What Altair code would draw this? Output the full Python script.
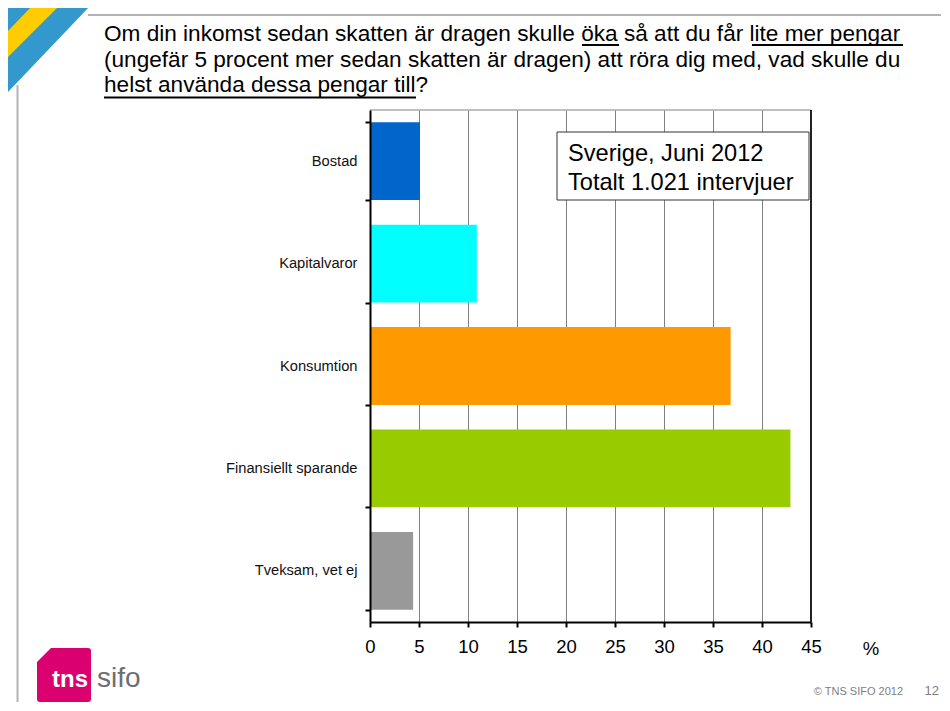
import altair as alt
import pandas as pd

# ---- data ----
categories = ["Bostad", "Kapitalvaror", "Konsumtion", "Finansiellt sparande", "Tveksam, vet ej"]
values = [5.1, 10.9, 36.8, 42.9, 4.4]
colors = ["#0066CC", "#00FFFF", "#FF9900", "#99CC00", "#999999"]
x_ticks = [0, 5, 10, 15, 20, 25, 30, 35, 40, 45]
title_lines = [
    "Om din inkomst sedan skatten är dragen skulle öka så att du får lite mer pengar",
    "(ungefär 5 procent mer sedan skatten är dragen) att röra dig med, vad skulle du",
    "helst använda dessa pengar till?",
]
box_lines = ["Sverige, Juni 2012", "Totalt 1.021 intervjuer"]
unit_label = "%"
copyright_text = "© TNS SIFO 2012"
page_number = "12"

W, H = 441, 512
FONT = "Liberation Sans"

df = pd.DataFrame({"kategori": categories, "andel": values})
one = pd.DataFrame({"d": [0]})

bars = alt.Chart(df).mark_bar().encode(
    y=alt.Y(
        "kategori:N",
        sort=categories,
        scale=alt.Scale(paddingInner=0.24, paddingOuter=0.12),
        axis=alt.Axis(
            title=None, tickBand="extent", ticks=True, tickColor="black", tickWidth=2,
            tickSize=5, domainColor="black", domainWidth=2, labelFontSize=14.7,
            labelColor="#111111", labelPadding=8, zindex=1, grid=False, labelFont=FONT,
            labelFontWeight="normal",
        ),
    ),
    x=alt.X(
        "andel:Q",
        scale=alt.Scale(domain=[0, 45], nice=False),
        axis=alt.Axis(
            values=x_ticks, title=None, grid=True, gridColor="#808080", gridWidth=1,
            tickColor="black", tickWidth=2, tickSize=5, domainColor="black", domainWidth=2,
            labelFontSize=18.5, labelColor="black", labelPadding=10, format="d",
            labelFlush=False, labelOverlap=False, labelFont=FONT,
        ),
    ),
    color=alt.Color("kategori:N", scale=alt.Scale(domain=categories, range=colors), legend=None),
)

def hrule(x0, x1, y, color, width):
    return alt.Chart(one).mark_rule(color=color, strokeWidth=width).encode(
        x=alt.value(x0), x2=alt.value(x1), y=alt.value(y))

def vrule(x, y0, y1, color, width):
    return alt.Chart(one).mark_rule(color=color, strokeWidth=width).encode(
        x=alt.value(x), y=alt.value(y0), y2=alt.value(y1))

def label(txt, x, y, size, color="black", align="left", weight="normal", font=FONT):
    return alt.Chart(one).mark_text(
        text=txt, align=align, baseline="alphabetic", fontSize=size, color=color,
        fontWeight=weight, font=font,
    ).encode(x=alt.value(x), y=alt.value(y))

def shape(path, color):
    return alt.Chart(one).mark_point(
        shape=path, size=4, filled=True, fill=color, opacity=1, strokeWidth=0
    ).encode(x=alt.value(0), y=alt.value(0))

top_border = hrule(0, W, 0, "#808080", 1)
right_border = vrule(W, 0, H, "#222222", 2)

box = alt.Chart(one).mark_rect(fill="white", stroke="#333333", strokeWidth=1).encode(
    x=alt.value(187), x2=alt.value(439), y=alt.value(22), y2=alt.value(90))
box_t1 = label(box_lines[0], 198, 51, 23.6)
box_t2 = label(box_lines[1], 198, 80, 23.6)

t1 = label(title_lines[0], -266, -69, 22.6)
t2 = label(title_lines[1], -266, -43.5, 22.6)
t3 = label(title_lines[2], -266, -18, 22.6)
u1 = hrule(212, 249, -65, "black", 1.8)
u2 = hrule(382, 533, -65, "black", 1.8)
u3 = hrule(-266, 46, -12.5, "black", 1.8)

unit = label(unit_label, 501, 545, 18.5, align="center")

frame_top = hrule(-282, 580, -95, "#B3B3B3", 2)
frame_left = vrule(-352.5, -25, 600, "#B3B3B3", 2)

tri_blue = shape("M-363,-104 L-280,-104 L-363,-17 Z", "#3399CC")
tri_yellow = shape("M-338,-104 L-311,-104 L-363,-52 L-363,-78 Z", "#FFCC00")

logo_bg = shape(
    "M-319,538 L-282,538 Q-279,538 -279,541 L-279,589 Q-279,592 -282,592 "
    "L-330,592 Q-333,592 -333,589 L-333,552 Z", "#DB0070")
logo_tns = label("tns", -318, 577, 24, color="white", weight="bold")
logo_sifo = label("sifo", -273, 577, 28, color="#6D6E71")

copy_t = label(copyright_text, 533, 585, 11, color="#808080", align="right")
page_t = label(page_number, 569, 585, 13, color="#808080", align="right")

chart = alt.layer(
    top_border, bars, right_border, box, box_t1, box_t2,
    t1, t2, t3, u1, u2, u3, unit,
    frame_top, frame_left, tri_blue, tri_yellow,
    logo_bg, logo_tns, logo_sifo, copy_t, page_t,
).properties(
    width=W, height=H,
    padding={"left": 362, "top": 102, "right": 130, "bottom": 80},
    autosize=alt.AutoSizeParams(type="none"),
).configure(font=FONT).configure_view(stroke=None)

chart.save("out.html", embed_options={"renderer": "svg", "actions": False})
